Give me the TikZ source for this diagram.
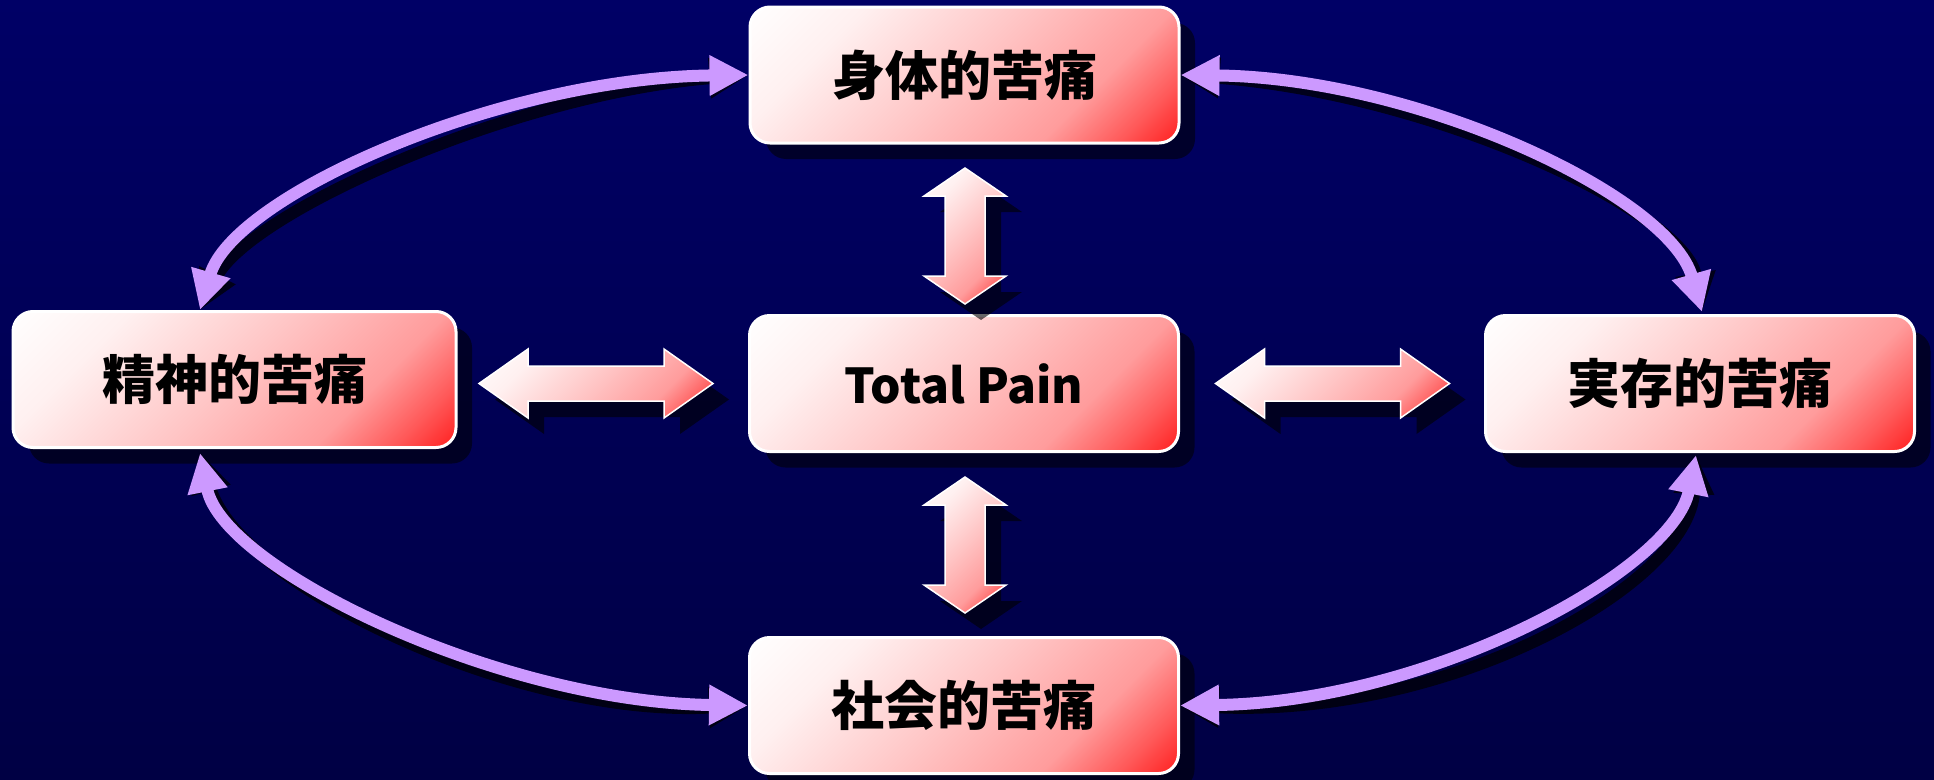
\documentclass[tikz,border=0pt]{standalone}
\usepackage{fontspec}
\newfontfamily\jp{Noto Sans CJK JP}
\usetikzlibrary{arrows.meta,shadows,calc}
\definecolor{bgtop}{HTML}{000066}
\definecolor{bgbot}{HTML}{000044}
\definecolor{arcpurple}{HTML}{CC99FF}
\definecolor{pinkA}{HTML}{FFF0F0}
\definecolor{pinkB}{HTML}{FFC4C4}
\definecolor{pinkC}{HTML}{FF9C9C}
\definecolor{pinkD}{HTML}{FF5858}
\definecolor{redend}{HTML}{FF1A1A}
\pgfdeclarehorizontalshading{pinkdiag}{100bp}{color(0bp)=(white); color(32bp)=(white); color(39.5bp)=(pinkA); color(50bp)=(pinkB); color(59bp)=(pinkC); color(64bp)=(pinkD); color(68bp)=(redend); color(100bp)=(redend)}
% horizontal double block arrow: options, cx, cy, half length, head length, head half width, shaft half width
\newcommand\hdarrow[7]{\path[#1] ({#2-#4},#3) -- ({#2-#4+#5},{#3-#6}) -- ({#2-#4+#5},{#3-#7}) -- ({#2+#4-#5},{#3-#7}) -- ({#2+#4-#5},{#3-#6}) -- ({#2+#4},#3) -- ({#2+#4-#5},{#3+#6}) -- ({#2+#4-#5},{#3+#7}) -- ({#2-#4+#5},{#3+#7}) -- ({#2-#4+#5},{#3+#6}) -- cycle;}
\newcommand\vdarrow[7]{\path[#1] (#2,{#3-#4}) -- ({#2+#6},{#3-#4+#5}) -- ({#2+#7},{#3-#4+#5}) -- ({#2+#7},{#3+#4-#5}) -- ({#2+#6},{#3+#4-#5}) -- (#2,{#3+#4}) -- ({#2-#6},{#3+#4-#5}) -- ({#2-#7},{#3+#4-#5}) -- ({#2-#7},{#3-#4+#5}) -- ({#2-#6},{#3-#4+#5}) -- cycle;}
\tikzset{
  diagshade/.style={path picture={\shade[shading=pinkdiag, shading angle=-45]
      ($(path picture bounding box.center)+({-#1/2},{-#1/2})$) rectangle +(#1,#1);}},
  painbox/.style={draw=white, line width=3pt, rounded corners=20pt, diagshade=565,
    minimum width=429pt, minimum height=136pt, inner sep=0pt, text=black,
    font=\jp\bfseries\fontsize{53}{60}\selectfont,
    drop shadow={shadow xshift=16pt, shadow yshift=-16pt, fill=black, opacity=.55}},
  hblock/.style={draw=white, line width=1.5pt, diagshade=303},
  vblock/.style={draw=white, line width=1.5pt, diagshade=218},
  blockshadow/.style={fill=black, opacity=.6, xshift=16pt, yshift=-16pt},
  arcarrow/.style={draw=arcpurple, line width=12pt, {Triangle[length=39pt,width=38pt]}-{Triangle[length=39pt,width=38pt]}},
  arcshadow/.style={draw=black, opacity=.72, line width=12pt, {Triangle[length=39pt,width=38pt]}-{Triangle[length=39pt,width=38pt]}, xshift=16pt, yshift=-16pt}
}
\begin{document}
\begin{tikzpicture}[x=1pt,y=-1pt]
\useasboundingbox (0,0) rectangle (1934,779);
\fill[top color=bgtop,bottom color=bgbot] (0,0) rectangle (1934,779);

\node[painbox] (phys) at (964.5,75) {身体的苦痛};
\node[painbox, minimum width=443pt, diagshade=579] (ment) at (234.5,379.5) {精神的苦痛};
\node[painbox, font=\jp\bfseries\fontsize{48}{56}\selectfont] (total) at (964,383.5) {Total Pain};
\node[painbox] (exist) at (1700,383.5) {実存的苦痛};
\node[painbox] (soc) at (964,705.5) {社会的苦痛};

% shadows of connectors
\hdarrow{blockshadow}{596}{383.5}{117}{49}{34.5}{17.5}
\hdarrow{blockshadow}{1332.5}{383.5}{117}{49}{34.5}{17.5}
\vdarrow{blockshadow}{965}{236}{68}{28}{41}{20}
\vdarrow{blockshadow}{965}{545}{68}{28}{41}{20}
\draw[arcshadow] ($(ment.north)+(-34.5,0)$) .. controls (233,196) and (499,78) .. (phys.west);
\draw[arcshadow] (phys.east) .. controls (1418,78) and (1669,196) .. ($(exist.north)+(2,-2)$);
\draw[arcshadow] ($(ment.south)+(-34.5,4)$) .. controls (223,569) and (499,702) .. (soc.west);
\draw[arcshadow] (soc.east) .. controls (1431,702) and (1673,570) .. ($(exist.south)+(-4,2)$);

% connectors
\hdarrow{hblock}{596}{383.5}{117}{49}{34.5}{17.5}
\hdarrow{hblock}{1332.5}{383.5}{117}{49}{34.5}{17.5}
\vdarrow{vblock}{965}{236}{68}{28}{41}{20}
\vdarrow{vblock}{965}{545}{68}{28}{41}{20}
\draw[arcarrow] ($(ment.north)+(-34.5,0)$) .. controls (233,196) and (499,78) .. (phys.west);
\draw[arcarrow] (phys.east) .. controls (1418,78) and (1669,196) .. ($(exist.north)+(2,-2)$);
\draw[arcarrow] ($(ment.south)+(-34.5,4)$) .. controls (223,569) and (499,702) .. (soc.west);
\draw[arcarrow] (soc.east) .. controls (1431,702) and (1673,570) .. ($(exist.south)+(-4,2)$);
\end{tikzpicture}
\end{document}
